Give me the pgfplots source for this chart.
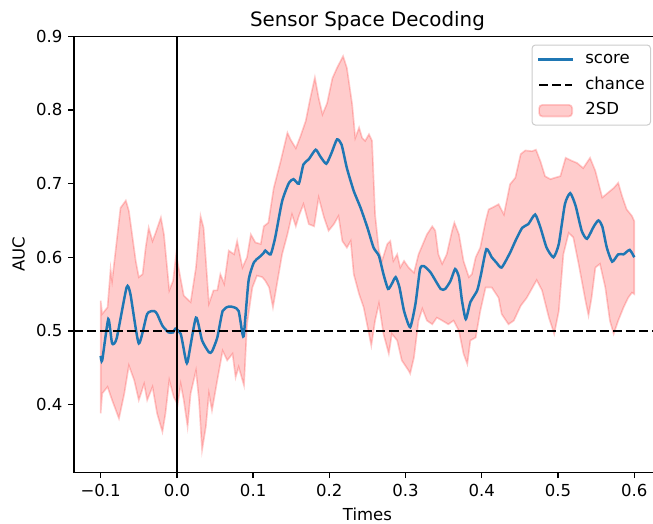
\documentclass[border=0pt]{standalone}
\usepackage{fontspec}
\setmainfont{DejaVu Sans}
\usepackage{pgfplots}
\usepackage{pgfplotstable}
\pgfplotsset{compat=1.18}
\usepgfplotslibrary{fillbetween}
\definecolor{mplblue}{HTML}{1F77B4}
\definecolor{framegray}{HTML}{CCCCCC}

\pgfplotsset{
  mpl line legend/.style={legend image code/.code={\draw[##1] (0pt,0pt) -- (20pt,0pt);}},
  mpl patch legend/.style={legend image code/.code={\draw[##1] (0pt,-3.5pt) rectangle (20pt,3.5pt);}},
}

% mean decoding score over time
\pgfplotstableread{
t auc
-0.100 0.466
-0.098 0.460
-0.090 0.516
-0.085 0.483
-0.079 0.490
-0.066 0.559
-0.061 0.550
-0.050 0.483
-0.039 0.523
-0.030 0.527
-0.026 0.523
-0.019 0.507
-0.011 0.498
-0.005 0.498
-0.002 0.503
0.005 0.496
0.011 0.464
0.014 0.458
0.025 0.518
0.033 0.487
0.042 0.471
0.046 0.472
0.053 0.491
0.060 0.527
0.068 0.533
0.075 0.532
0.081 0.527
0.086 0.496
0.088 0.496
0.094 0.568
0.101 0.593
0.108 0.600
0.114 0.606
0.116 0.609
0.123 0.604
0.129 0.627
0.138 0.676
0.147 0.701
0.153 0.706
0.160 0.700
0.166 0.726
0.173 0.733
0.182 0.746
0.188 0.737
0.196 0.727
0.203 0.742
0.210 0.760
0.216 0.753
0.223 0.721
0.232 0.690
0.241 0.667
0.250 0.640
0.258 0.613
0.265 0.602
0.271 0.577
0.277 0.557
0.282 0.564
0.287 0.573
0.292 0.559
0.298 0.527
0.306 0.505
0.313 0.537
0.319 0.584
0.324 0.588
0.333 0.579
0.346 0.557
0.352 0.557
0.359 0.568
0.365 0.584
0.370 0.573
0.374 0.541
0.379 0.516
0.385 0.539
0.394 0.555
0.399 0.577
0.406 0.611
0.413 0.600
0.419 0.593
0.426 0.586
0.437 0.606
0.444 0.622
0.453 0.640
0.461 0.645
0.470 0.658
0.477 0.640
0.485 0.613
0.494 0.600
0.501 0.618
0.509 0.672
0.516 0.687
0.523 0.670
0.531 0.636
0.538 0.625
0.547 0.642
0.553 0.650
0.558 0.642
0.564 0.613
0.571 0.594
0.579 0.604
0.586 0.604
0.594 0.610
0.600 0.600
}\scoredata

% score + 2SD
\pgfplotstableread{
t auc
-0.100 0.541
-0.098 0.523
-0.091 0.532
-0.087 0.584
-0.085 0.568
-0.080 0.613
-0.074 0.667
-0.067 0.677
-0.063 0.663
-0.054 0.595
-0.050 0.573
-0.045 0.577
-0.041 0.613
-0.037 0.640
-0.032 0.622
-0.028 0.633
-0.021 0.654
-0.017 0.631
-0.010 0.555
-0.005 0.568
-0.001 0.604
0.005 0.570
0.009 0.548
0.018 0.539
0.025 0.586
0.031 0.656
0.035 0.640
0.042 0.537
0.048 0.555
0.053 0.555
0.057 0.577
0.062 0.564
0.068 0.609
0.075 0.604
0.079 0.622
0.086 0.586
0.092 0.600
0.097 0.631
0.103 0.620
0.110 0.618
0.114 0.642
0.120 0.647
0.127 0.694
0.136 0.730
0.145 0.769
0.149 0.760
0.156 0.748
0.162 0.764
0.169 0.785
0.175 0.816
0.181 0.844
0.186 0.816
0.191 0.794
0.197 0.809
0.204 0.843
0.210 0.857
0.218 0.873
0.223 0.857
0.230 0.807
0.234 0.762
0.239 0.776
0.243 0.762
0.247 0.758
0.252 0.767
0.256 0.758
0.260 0.658
0.265 0.609
0.269 0.595
0.276 0.618
0.280 0.622
0.284 0.595
0.289 0.604
0.293 0.586
0.298 0.595
0.304 0.586
0.311 0.579
0.317 0.604
0.328 0.631
0.335 0.642
0.339 0.636
0.343 0.604
0.348 0.591
0.354 0.604
0.361 0.636
0.364 0.647
0.370 0.631
0.376 0.595
0.383 0.573
0.387 0.577
0.392 0.600
0.398 0.613
0.405 0.649
0.409 0.665
0.415 0.668
0.422 0.672
0.429 0.658
0.437 0.699
0.444 0.708
0.451 0.740
0.457 0.745
0.466 0.744
0.471 0.746
0.477 0.730
0.483 0.710
0.490 0.706
0.496 0.708
0.503 0.710
0.510 0.735
0.518 0.731
0.525 0.728
0.533 0.721
0.542 0.735
0.549 0.717
0.558 0.681
0.566 0.688
0.573 0.694
0.579 0.701
0.584 0.683
0.590 0.665
0.597 0.656
0.600 0.649
}\upperdata

% score - 2SD
\pgfplotstableread{
t auc
-0.100 0.388
-0.098 0.415
-0.091 0.424
-0.085 0.406
-0.076 0.381
-0.069 0.415
-0.063 0.453
-0.056 0.433
-0.050 0.406
-0.043 0.428
-0.039 0.406
-0.032 0.424
-0.026 0.388
-0.019 0.363
-0.015 0.388
-0.010 0.433
-0.004 0.410
0.001 0.400
0.005 0.428
0.009 0.406
0.014 0.370
0.018 0.415
0.025 0.446
0.029 0.406
0.033 0.338
0.038 0.370
0.042 0.415
0.046 0.392
0.053 0.433
0.060 0.473
0.066 0.460
0.073 0.469
0.077 0.437
0.081 0.451
0.088 0.426
0.092 0.509
0.099 0.559
0.105 0.575
0.112 0.573
0.116 0.568
0.121 0.559
0.126 0.532
0.132 0.568
0.138 0.604
0.145 0.631
0.151 0.658
0.156 0.642
0.160 0.656
0.166 0.672
0.173 0.645
0.180 0.642
0.186 0.681
0.193 0.654
0.199 0.636
0.206 0.645
0.212 0.656
0.217 0.622
0.223 0.613
0.228 0.622
0.232 0.577
0.239 0.550
0.245 0.532
0.252 0.496
0.255 0.480
0.260 0.514
0.265 0.537
0.271 0.496
0.278 0.469
0.282 0.496
0.289 0.487
0.295 0.460
0.304 0.446
0.306 0.442
0.311 0.464
0.317 0.514
0.322 0.530
0.328 0.514
0.335 0.509
0.341 0.518
0.348 0.514
0.356 0.509
0.363 0.514
0.370 0.500
0.376 0.469
0.381 0.455
0.385 0.487
0.392 0.491
0.398 0.527
0.405 0.559
0.413 0.559
0.422 0.545
0.426 0.523
0.435 0.509
0.442 0.514
0.451 0.534
0.459 0.545
0.472 0.569
0.479 0.555
0.488 0.518
0.495 0.496
0.501 0.527
0.507 0.604
0.514 0.633
0.520 0.627
0.527 0.591
0.536 0.541
0.540 0.521
0.544 0.545
0.549 0.586
0.555 0.591
0.562 0.559
0.568 0.514
0.573 0.496
0.579 0.514
0.586 0.532
0.592 0.545
0.597 0.552
0.600 0.550
}\lowerdata

\begin{document}
\begin{tikzpicture}
\begin{axis}[
  name=ax,
  at={(44.77pt,30.67pt)}, anchor=south west,
  width=355.1pt, height=263.8pt, scale only axis,
  xmin=-0.135, xmax=0.635, ymin=0.308, ymax=0.9,
  tick align=outside, tick pos=left,
  major tick length=3.5pt,
  every tick/.style={black, line width=0.8pt},
  axis line style={line width=0.8pt},
  xtick={-0.1,0,0.1,0.2,0.3,0.4,0.5,0.6},
  xticklabels={−0.1,0.0,0.1,0.2,0.3,0.4,0.5,0.6},
  ytick={0.4,0.5,0.6,0.7,0.8,0.9},
  yticklabels={0.4,0.5,0.6,0.7,0.8,0.9},
  tick label style={font=\fontsize{10}{12}\selectfont},
  label style={font=\fontsize{10}{12}\selectfont},
  title={Sensor Space Decoding},
  every axis title shift=0pt,
  title style={font=\fontsize{12}{14.4}\selectfont,
    at={(axis description cs:0.5,1)}, anchor=base, yshift=6pt},
  xlabel={Times}, ylabel={AUC},
  legend cell align=left,
  legend style={at={(axis description cs:1,1)}, anchor=north east,
    xshift=-6pt, yshift=-5pt,
    draw=framegray, line width=0.6pt, rounded corners=2pt, fill=white,
    font=\fontsize{10}{12}\selectfont,
    inner xsep=3.5pt, inner ysep=3.9pt, row sep=5.9pt, column sep=7.2pt,
    nodes={inner sep=0pt, text height=7.4pt, text depth=2.2pt}},
]
\addplot[name path=up, draw=none, forget plot] table[x=t,y=auc] {\upperdata};
\addplot[name path=lo, draw=none, forget plot] table[x=t,y=auc] {\lowerdata};
\addplot[fill=red, fill opacity=0.2, draw=red, draw opacity=0.2, line width=1pt, forget plot]
  fill between[of=up and lo];

\addplot[mplblue, line width=1.5pt, smooth, tension=0.35, forget plot]
  table[x=t,y=auc] {\scoredata};
\addplot[black, line width=1.5pt, dash pattern=on 5.55pt off 2.4pt, forget plot]
  coordinates {(-0.135,0.5) (0.635,0.5)};
\addplot[black, line width=1.3pt, forget plot]
  coordinates {(0,0.2) (0,1.0)};

\addlegendimage{mplblue, line width=1.5pt, line cap=rect, mpl line legend}
\addlegendentry{score}
\addlegendimage{black, line width=1.5pt, dash pattern=on 5.55pt off 2.4pt, mpl line legend}
\addlegendentry{chance}
\addlegendimage{fill=red, fill opacity=0.2, draw=red, draw opacity=0.2, line width=1pt, mpl patch legend}
\addlegendentry{2SD}
\end{axis}
% upper frame edge
\draw[line width=0.8pt] (ax.north west) -- (ax.north east);
\pgfresetboundingbox
\path[use as bounding box] (0,0) rectangle (395.07pt,316.42pt);
\end{tikzpicture}
\end{document}
